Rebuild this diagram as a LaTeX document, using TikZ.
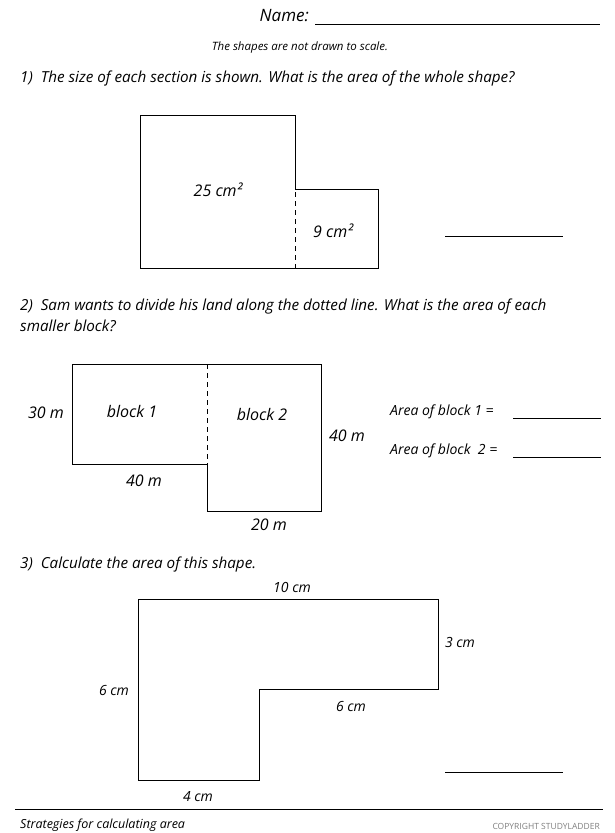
\documentclass[tikz,border=0pt]{standalone}
\usepackage{fontspec}
\setmainfont{Open Sans}
\begin{document}
\begin{tikzpicture}[x=1pt,y=-1pt,
  txt/.style={font=\itshape\fontsize{15.2}{17}\selectfont,inner sep=0pt},
  lab/.style={font=\itshape\fontsize{16}{18}\selectfont,inner sep=0pt},
  sm/.style={font=\itshape\fontsize{14}{16}\selectfont,inner sep=0pt},
  ln/.style={line width=0.6pt}]
\useasboundingbox (0,0) rectangle (614,833);
\node[inner sep=0pt,anchor=east,font=\itshape\fontsize{17}{19}\selectfont] (nm) at (309,16) {Name:};
\coordinate (n1) at (315,24); \coordinate (n2) at (600,24);
\draw[ln] (n1)--(n2);
\node[inner sep=0pt,font=\itshape\fontsize{11.5}{13}\selectfont] (sc) at (300,48) {The shapes are not drawn to scale.};
\node[txt,anchor=west] (q1) at (20,79) {1)\ \ The size of each section is shown. What is the area of the whole shape?};
% shape 1
\draw[ln] (295,189)--(295,115)--(140,115)--(140,268)--(378,268)--(378,189)--(295,189);
\draw[ln,dashed,dash pattern=on 5pt off 4pt] (295,192)--(295,268);
\node[lab] (a1) at (218,190) {25 cm²};
\node[lab] (a2) at (333,231) {9 cm²};
\draw[ln] (445,236)--(563,236);
% q2
\node[txt,anchor=west] (q2) at (20,307) {2)\ \ Sam wants to divide his land along the dotted line. What is the area of each};
\node[txt,anchor=west] (q2b) at (20,326) {smaller block?};
\draw[ln] (72,364)--(321,364)--(321,511)--(207,511)--(207,464)--(72,464)--cycle;
\draw[ln,dashed,dash pattern=on 5pt off 4pt] (207,364)--(207,464);
\node[lab] (b1) at (46,413) {30 m};
\node[lab] (b2) at (132,411) {block 1};
\node[lab] (b3) at (262,414) {block 2};
\node[lab] (b4) at (347,436) {40 m};
\node[lab] (b5) at (144,481) {40 m};
\node[lab] (b6) at (269,525) {20 m};
\node[sm,anchor=west] (ab1) at (390,412) {Area of block 1 =};
\node[sm,anchor=west] (ab2) at (390,451) {Area of block\ \ 2 =};
\draw[ln] (513,418)--(601,418);
\draw[ln] (513,457)--(601,457);
% q3
\node[txt,anchor=west] (q3) at (20,565) {3)\ \ Calculate the area of this shape.};
\draw[ln] (138,599)--(438,599)--(438,689)--(259,689)--(259,780)--(138,780)--cycle;
\node[sm] (c1) at (292,587) {10 cm};
\node[sm] (c2) at (460,642) {3 cm};
\node[sm] (c3) at (114,690) {6 cm};
\node[sm] (c4) at (351,706) {6 cm};
\node[sm] (c5) at (198,797) {4 cm};
\draw[ln] (445,772)--(563,772);
% footer
\draw[line width=0.8pt] (15,809)--(603,809);
\node[inner sep=0pt,anchor=west,font=\itshape\fontsize{12.5}{14}\selectfont] (ft) at (20,825) {Strategies for calculating area};
\node[inner sep=0pt,anchor=east,text=gray,font=\fontsize{8.5}{10}\selectfont] (cp) at (600,826) {COPYRIGHT STUDYLADDER};
\end{tikzpicture}
\end{document}
